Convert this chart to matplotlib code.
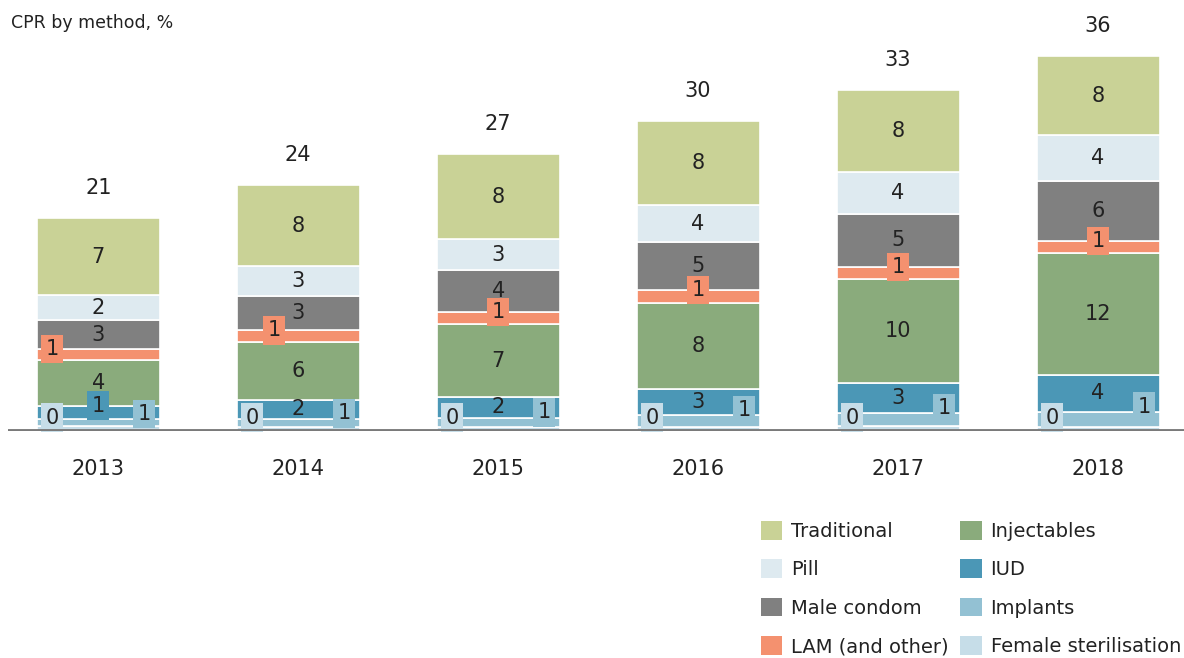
import matplotlib
matplotlib.use("Agg")
import matplotlib.pyplot as plt
from matplotlib.patches import Patch

plt.rcParams['font.family'] = ['DejaVu Sans']

years = ["2013", "2014", "2015", "2016", "2017", "2018"]
methods = ["Female sterilisation", "Implants", "IUD", "Injectables",
           "LAM (and other)", "Male condom", "Pill", "Traditional"]
female_sterilisation = [0.45, 0.40, 0.40, 0.40, 0.45, 0.40]
implants = [0.70, 0.80, 0.90, 1.10, 1.30, 1.45]
iud = [1.30, 1.80, 2.00, 2.60, 2.90, 3.60]
injectables = [4.45, 5.60, 7.00, 8.30, 10.00, 11.70]
lam = [1.00, 1.10, 1.20, 1.20, 1.20, 1.20]
male_condom = [2.80, 3.30, 4.00, 4.60, 5.10, 5.80]
pill = [2.40, 2.90, 3.00, 3.60, 4.00, 4.40]
traditional = [7.45, 7.80, 8.20, 8.10, 8.00, 7.60]

series = [female_sterilisation, implants, iud, injectables, lam,
          male_condom, pill, traditional]
colors = ["#c6dde8", "#93c1d3", "#4b97b6", "#8aab7c", "#f4916f",
          "#808080", "#deeaf0", "#c9d296"]

fig = plt.figure(figsize=(11.84, 6.58), dpi=100)
ax = fig.add_axes([0.007, 0.345, 0.993, 0.655])
x = list(range(len(years)))
width = 0.615
fs = 15

bottoms = [0.0] * len(years)
for vals, col in zip(series, colors):
    ax.bar(x, vals, width, bottom=bottoms, color=col, edgecolor="white",
           linewidth=1.2, zorder=2)
    bottoms = [b + v for b, v in zip(bottoms, vals)]

lam_dx = [-0.23, -0.12, 0, 0, 0, 0]
for i in x:
    cum = 0.0
    for k, (vals, col) in enumerate(zip(series, colors)):
        v = vals[i]
        lo, hi = cum, cum + v
        cum = hi
        lab = f"{round(v)}"
        box = dict(boxstyle="square,pad=0.2", facecolor=col, edgecolor="none")
        if k == 0:
            ax.text(i - 0.23, 1.3, lab, ha="center", va="center", fontsize=fs,
                    bbox=box, zorder=4, color="#222222")
        elif k == 1:
            ax.text(i + 0.23, hi + 0.5, lab, ha="center", va="center", fontsize=fs,
                    bbox=box, zorder=4, color="#222222")
        elif k == 4:
            ax.text(i + lam_dx[i], hi, lab, ha="center", va="center", fontsize=fs,
                    bbox=box, zorder=4, color="#222222")
        elif v < 1.5:
            ax.text(i, hi, lab, ha="center", va="center", fontsize=fs,
                    bbox=box, zorder=4, color="#222222")
        else:
            ax.text(i, (lo + hi) / 2, lab, ha="center", va="center", fontsize=fs,
                    zorder=3, color="#222222")
    ax.text(i, cum + 2.9, f"{round(cum)}", ha="center", va="center",
            fontsize=fs, color="#222222")
    ax.text(i, -3.7, years[i], ha="center", va="center", fontsize=fs,
            color="#222222")

ax.axhline(0, color="#7a7a7a", linewidth=3.5, zorder=5)
ax.set_xlim(-0.45, 5.43)
ax.set_ylim(0, 41.6)
ax.axis("off")

fig.text(0.009, 0.965, "CPR by method, %", fontsize=12.5, color="#222222",
         va="center", ha="left")

order = [7, 6, 5, 4, 3, 2, 1, 0]
handles = [Patch(facecolor=colors[k], edgecolor="none", label=methods[k]) for k in order]
fig.legend(handles=handles, ncol=2, loc="lower right",
           bbox_to_anchor=(1.004, -0.009), borderaxespad=0.0, frameon=False,
           fontsize=14, handlelength=1.1, handleheight=1.1, labelspacing=0.95,
           columnspacing=0.6, handletextpad=0.45, labelcolor="#222222")

fig.savefig("out.png", dpi=100)
